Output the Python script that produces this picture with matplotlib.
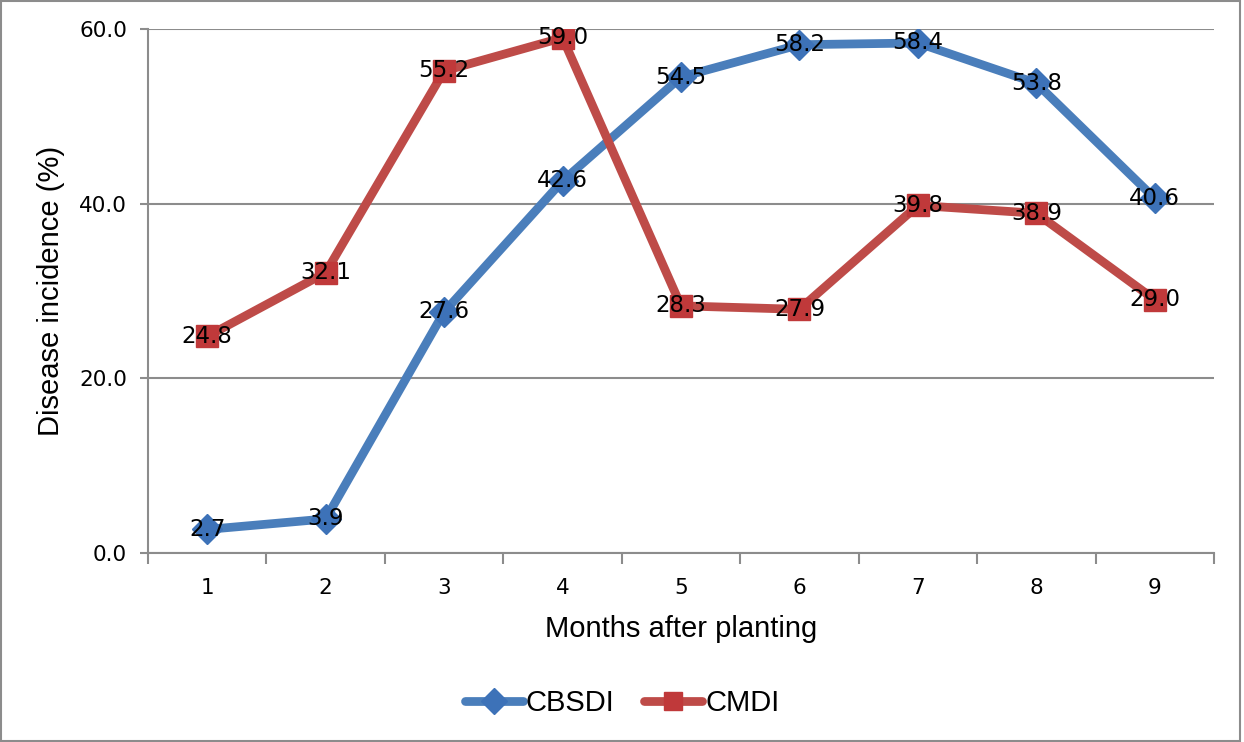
import matplotlib.pyplot as plt
from matplotlib.patches import Rectangle
from matplotlib.ticker import FixedLocator

months = [1, 2, 3, 4, 5, 6, 7, 8, 9]
cbsdi = [2.7, 3.9, 27.6, 42.6, 54.5, 58.2, 58.4, 53.8, 40.6]
cmdi = [24.8, 32.1, 55.2, 59.0, 28.3, 27.9, 39.8, 38.9, 29.0]

blue = "#4A7EBB"
blue_mk = "#3D72B8"
red = "#BE4B48"
red_mk = "#C0393A"
grey = "#8C8C8C"

fig = plt.figure(figsize=(12.44, 7.42), dpi=100)
ax = fig.add_axes([148 / 1244, 1 - 553 / 742, (1214 - 148) / 1244, (553 - 29) / 742])

ax.plot(months, cbsdi, color=blue, lw=6.3, marker="D", ms=15,
        mfc=blue_mk, mec=blue_mk, label="CBSDI", zorder=3, solid_capstyle="round")
ax.plot(months, cmdi, color=red, lw=6.3, marker="s", ms=16,
        mfc=red_mk, mec=red_mk, label="CMDI", zorder=3, solid_capstyle="round")

for xs, ys in [(months, cbsdi), (months, cmdi)]:
    for x, y in zip(xs, ys):
        ax.text(x, y, f"{y:.1f}", ha="center", va="center", fontsize=16.5,
                family="DejaVu Sans", zorder=5, clip_on=False)

ax.set_xlim(0.5, 9.5)
ax.set_ylim(0, 60)
ax.set_yticks([0, 20, 40, 60])
ax.set_yticklabels([f"{v:.1f}" for v in [0, 20, 40, 60]], fontsize=15.5, family="DejaVu Sans")
ax.set_xticks(months)
ax.set_xticklabels([str(m) for m in months], fontsize=15.5, family="DejaVu Sans")
ax.xaxis.set_minor_locator(FixedLocator([m + 0.5 for m in range(0, 10)]))
ax.tick_params(axis="x", which="major", length=0, pad=18)
ax.tick_params(axis="x", which="minor", length=8, width=1.5, color=grey, direction="out")
ax.tick_params(axis="y", length=6, width=1.5, color=grey, direction="out", pad=9)

ax.grid(axis="y", color=grey, lw=1.5)
ax.set_axisbelow(True)
for side in ["top", "right"]:
    ax.spines[side].set_visible(False)
for side in ["left", "bottom"]:
    ax.spines[side].set_color(grey)
    ax.spines[side].set_linewidth(1.5)

ax.set_xlabel("Months after planting", fontsize=21, family="Liberation Sans", labelpad=12)
ax.set_ylabel("Disease incidence (%)", fontsize=21, family="Liberation Sans", labelpad=10)

fig.legend(loc="center", bbox_to_anchor=(0.5, 1 - 703 / 742), ncol=2, frameon=False,
           prop={"family": "Liberation Sans", "size": 21}, handlelength=2.0,
           handletextpad=0.1, columnspacing=1.0, markerscale=0.85)

fig.add_artist(Rectangle((0.001, 0.001), 0.996, 0.997, transform=fig.transFigure,
                         fill=False, edgecolor=grey, lw=1.5))

fig.savefig("out.png", dpi=100)
